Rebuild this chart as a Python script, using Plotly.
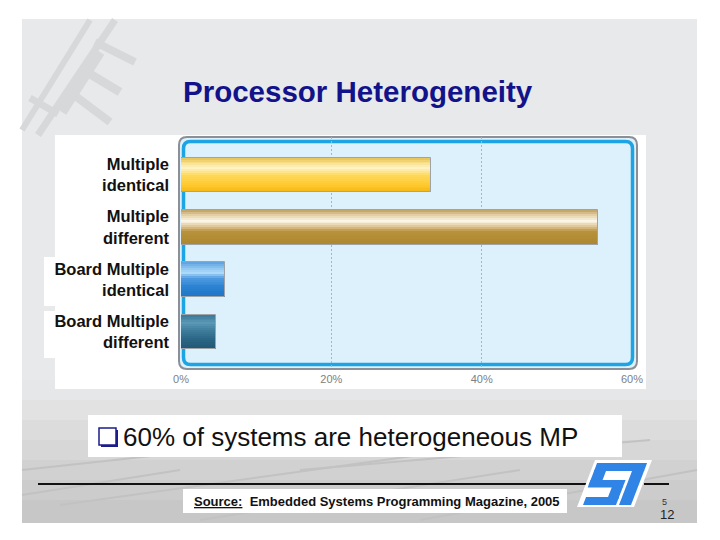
import plotly.graph_objects as go

W_PX, H_PX = 720, 540

# ---- data ----
categories = ["Multiple<br>identical", "Multiple<br>different",
              "Board Multiple<br>identical", "Board Multiple<br>different"]
values = [33.3, 55.5, 5.8, 4.6]
tick_vals = [0, 20, 40, 60]
tick_text = ["0%", "20%", "40%", "60%"]
title_text = "Processor Heterogeneity"
bullet_text = "60% of systems are heterogeneous MP"
source_label = "Source:"
source_text = "Embedded Systems Programming Magazine, 2005"
page_small = "5"
page_big = "12"

# ---- style: gradient stops (top -> bottom) per bar ----
gradients = [
    [(0, "#e6c155"), (0.12, "#f6da7c"), (0.3, "#fff3c6"), (0.5, "#ffd95c"), (0.75, "#ffcb30"), (1, "#f4b716")],
    [(0, "#c09e5e"), (0.15, "#e6d3a8"), (0.32, "#fdf8ee"), (0.5, "#dcc18a"), (0.62, "#b8923c"), (1, "#ad872e")],
    [(0, "#5c9ede"), (0.18, "#8fc6f2"), (0.3, "#b0dcfa"), (0.45, "#4f9ae0"), (0.7, "#2c84d3"), (1, "#1f74c4")],
    [(0, "#3b7797"), (0.25, "#5b98b6"), (0.45, "#3f7d9c"), (0.7, "#2b6585"), (1, "#215873")],
]


def hex2rgb(h):
    h = h.lstrip("#")
    return tuple(int(h[i:i + 2], 16) for i in (0, 2, 4))


def interp(stops, t):
    for (p0, c0), (p1, c1) in zip(stops[:-1], stops[1:]):
        if p0 <= t <= p1:
            f = 0 if p1 == p0 else (t - p0) / (p1 - p0)
            a, b = hex2rgb(c0), hex2rgb(c1)
            r = [round(a[k] + (b[k] - a[k]) * f) for k in range(3)]
            return "rgb(%d,%d,%d)" % tuple(r)
    return stops[-1][1]


BAR_W = 0.66
N = 18
fig = go.Figure()
for i in range(N):
    t = (i + 0.5) / N
    fig.add_trace(go.Bar(
        x=values, y=list(range(len(categories))), orientation="h",
        width=BAR_W / N * 1.08, offset=-BAR_W / 2 + i * BAR_W / N,
        marker=dict(color=[interp(g, t) for g in gradients], line=dict(width=0)),
        hoverinfo="skip", showlegend=False))
# outline
fig.add_trace(go.Bar(
    x=values, y=list(range(len(categories))), orientation="h",
    width=BAR_W, offset=-BAR_W / 2,
    marker=dict(color="rgba(0,0,0,0)", line=dict(width=1, color="#9ea3a8")),
    hoverinfo="skip", showlegend=False))


# ---- helpers for paper-pixel shapes ----
def P(x, y):
    return x / W_PX, 1 - y / H_PX


shapes = []


def rect(x0, y0, x1, y1, fill, line=None, lw=0, layer="below"):
    a, b = P(x0, y0)
    c, d = P(x1, y1)
    shapes.append(dict(type="rect", xref="paper", yref="paper", x0=a, y0=d, x1=c, y1=b,
                       fillcolor=fill, line=dict(width=lw, color=line or fill), layer=layer))


def rrect(x0, y0, x1, y1, r, fill, line, lw, layer="below"):
    def p(x, y):
        a, b = P(x, y)
        return "%.5f,%.5f" % (a, b)
    path = ("M " + p(x0 + r, y0) + " L " + p(x1 - r, y0) + " Q " + p(x1, y0) + " " + p(x1, y0 + r) +
            " L " + p(x1, y1 - r) + " Q " + p(x1, y1) + " " + p(x1 - r, y1) +
            " L " + p(x0 + r, y1) + " Q " + p(x0, y1) + " " + p(x0, y1 - r) +
            " L " + p(x0, y0 + r) + " Q " + p(x0, y0) + " " + p(x0 + r, y0) + " Z")
    shapes.append(dict(type="path", xref="paper", yref="paper", path=path,
                       fillcolor=fill, line=dict(width=lw, color=line), layer=layer))


def poly(pts, fill, line=None, lw=0, layer="below"):
    s = "M " + " L ".join("%.5f,%.5f" % P(x, y) for x, y in pts) + " Z"
    shapes.append(dict(type="path", xref="paper", yref="paper", path=s,
                       fillcolor=fill, line=dict(width=lw, color=line or fill), layer=layer))


def hline(x0, x1, y, color, lw, layer="below"):
    a, b = P(x0, y)
    c, _ = P(x1, y)
    shapes.append(dict(type="line", xref="paper", yref="paper", x0=a, y0=b, x1=c, y1=b,
                       line=dict(width=lw, color=color), layer=layer))


def seg(x0, y0, x1, y1, color, lw, layer="below"):
    a, b = P(x0, y0)
    c, d = P(x1, y1)
    shapes.append(dict(type="line", xref="paper", yref="paper", x0=a, y0=b, x1=c, y1=d,
                       line=dict(width=lw, color=color), layer=layer))


# slide background
rect(22, 19, 697, 523, "#e8e9eb")
bands = [(380, "#e6e7e8"), (400, "#e2e2e3"), (420, "#dcdcdc"), (440, "#d7d7d7"),
         (460, "#d1d1d1"), (480, "#cccccc"), (500, "#c7c7c7")]
for k, (yb, col) in enumerate(bands):
    y_end = bands[k + 1][0] if k + 1 < len(bands) else 523
    rect(22, yb, 697, y_end, col)
# faint texture strokes bottom
for (xa, ya, xb, yb2) in [(22, 470, 300, 440), (60, 505, 420, 455), (200, 520, 520, 470),
                           (420, 520, 697, 470), (300, 470, 650, 440), (22, 495, 180, 470)]:
    seg(xa, ya, xb, yb2, "#c2c2c2", 2)
# circuit decoration top-left
for (xa, ya, xb, yb2, w) in [(22, 130, 90, 20, 6), (38, 135, 115, 20, 7), (62, 112, 100, 52, 10),
                              (80, 68, 120, 92, 9), (95, 42, 135, 62, 8), (70, 92, 110, 122, 8),
                              (30, 98, 58, 114, 7)]:
    seg(xa, ya, xb, yb2, "#d6d8da", w)

# white chart panel
rect(55, 135, 646, 389, "white")
rect(44, 257, 180, 306, "white")
rect(44, 311, 180, 358, "white")

# plot frame
rrect(179, 137, 637, 369, 8, "#ddf1fc", "#8c9096", 2)
rrect(183.5, 141.5, 632.5, 364.5, 7, "rgba(0,0,0,0)", "#1ca4e4", 3.5)

# bullet text box
rect(88, 415, 622, 457, "white")
rect(101, 430, 118, 447, "#1c1c8a")
rect(99, 428, 116, 445, "white", "#1c1c8a", 1.5)

# rule line
hline(38, 590, 484, "#111111", 2)
hline(644, 669, 484, "#111111", 2)

# source box
rect(183, 489, 567, 513, "white")

# ST logo (white backing + blue letter blocks, italic skew)
poly([(595, 460), (652, 460), (634, 507), (577, 507)], "white")
LOGO_BLUE = "#2f84e6"
SK = 0.383


def sk_rect(u0, u1, y0, y1):
    poly([(u0 + (505 - y0) * SK, y0), (u1 + (505 - y0) * SK, y0),
          (u1 + (505 - y1) * SK, y1), (u0 + (505 - y1) * SK, y1)], LOGO_BLUE)


sk_rect(581, 631, 463, 471)   # top bar
sk_rect(581, 593, 470, 485)   # S upper-left
sk_rect(581, 616, 480, 487.5)  # S middle
sk_rect(605, 616, 486, 499)   # S lower-right
sk_rect(583, 616, 497, 505)   # S bottom
sk_rect(619, 631, 470, 505)   # T stem

fig.update_layout(shapes=shapes)

# ---- annotations ----
FONT = "Liberation Sans, Arial"
ann = []
ann.append(dict(text="<b>%s</b>" % title_text, x=358 / W_PX, y=1 - 91 / H_PX, xref="paper", yref="paper",
                showarrow=False, xanchor="center", yanchor="middle",
                font=dict(family=FONT, size=29.5, color="#12128a")))
ann.append(dict(text=bullet_text, x=121 / W_PX, y=1 - 437 / H_PX, xref="paper", yref="paper",
                showarrow=False, xanchor="left", yanchor="middle",
                font=dict(family=FONT, size=26, color="#111111")))
ann.append(dict(text="<b><u>%s</u>  %s</b>" % (source_label, source_text), x=192 / W_PX, y=1 - 501 / H_PX,
                xref="paper", yref="paper", showarrow=False, xanchor="left", yanchor="middle",
                font=dict(family=FONT, size=13, color="#111111")))
ann.append(dict(text=page_small, x=664 / W_PX, y=1 - 502 / H_PX, xref="paper", yref="paper",
                showarrow=False, xanchor="center", yanchor="middle",
                font=dict(family=FONT, size=9, color="#333333")))
ann.append(dict(text=page_big, x=667 / W_PX, y=1 - 514 / H_PX, xref="paper", yref="paper",
                showarrow=False, xanchor="center", yanchor="middle",
                font=dict(family=FONT, size=13, color="#222222")))

fig.update_layout(
    template="none",
    annotations=ann,
    width=W_PX, height=H_PX, autosize=False,
    margin=dict(l=0, r=0, t=0, b=0, pad=0),
    paper_bgcolor="white", plot_bgcolor="rgba(0,0,0,0)",
    barmode="overlay", bargap=0,
    showlegend=False,
    xaxis=dict(domain=[181 / W_PX, 632 / W_PX], range=[0, 60], automargin=False,
               tickvals=tick_vals, ticktext=tick_text, showline=False, zeroline=False,
               showgrid=True, gridcolor="#aab4bc", griddash="2px,2px", gridwidth=1,
               ticks="", ticklabelstandoff=2,
               tickfont=dict(family=FONT, size=11, color="#808080"),
               fixedrange=True),
    yaxis=dict(domain=[1 - 369 / H_PX, 1 - 137 / H_PX], range=[3.707, -0.726], automargin=False,
               tickvals=list(range(len(categories))), ticktext=categories,
               showgrid=False, zeroline=False, showline=False, ticks="",
               ticklabelstandoff=11,
               tickfont=dict(family=FONT, size=16.5, color="#111111", weight="bold"),
               fixedrange=True),
)

fig.write_html("out.html", config={"displayModeBar": False},
               post_script="document.body.style.margin='0';")
